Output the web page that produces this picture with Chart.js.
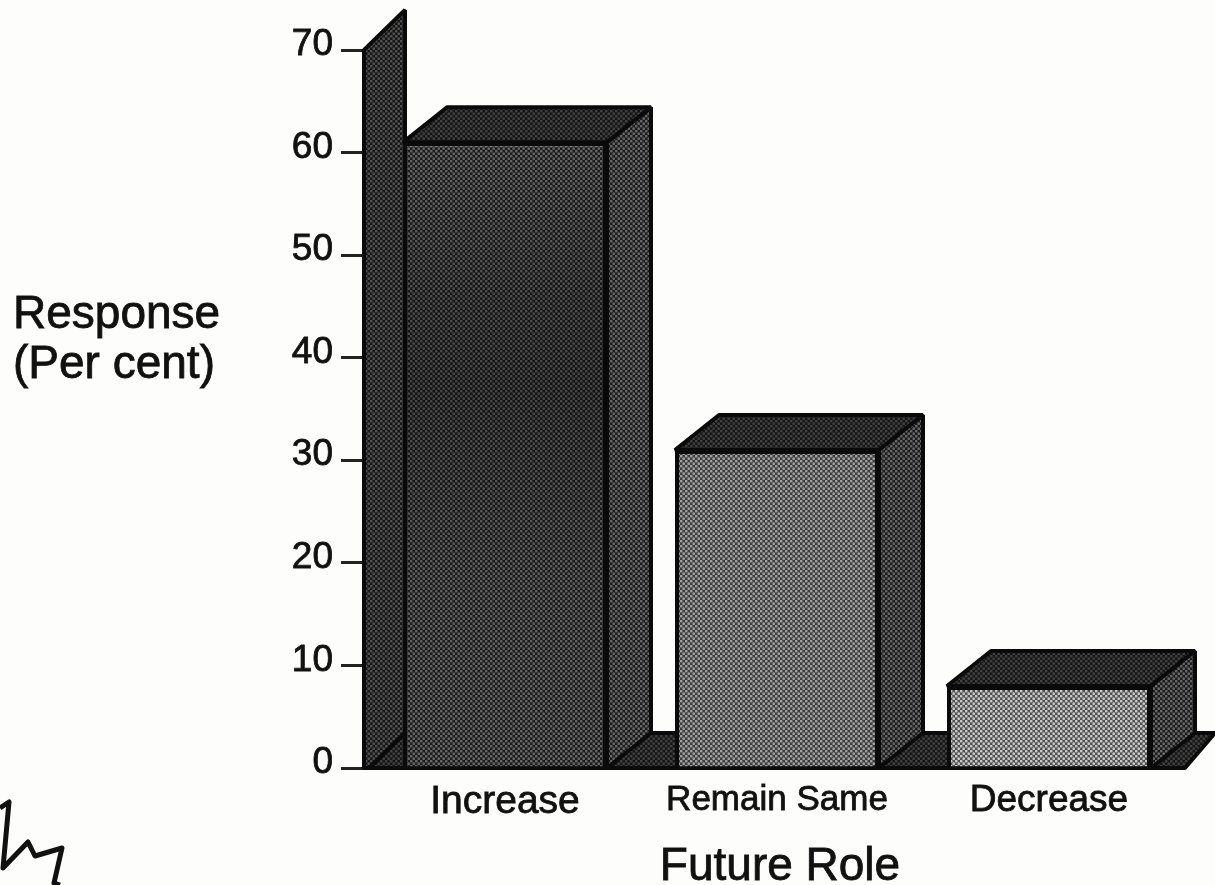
<!DOCTYPE html>
<html>
<head>
<meta charset="utf-8">
<title>Future Role</title>
<script src="https://cdn.jsdelivr.net/npm/chart.js@4"></script>
<style>
    html, body { margin: 0; padding: 0; background: #fdfdfb; overflow: hidden; }
    #wrap { position: relative; width: 1215px; height: 885px; }
    #scribble { position: absolute; left: 0; top: 0; }
</style>
</head>
<body>
<div id="wrap">
    <canvas id="roleChart" width="1215" height="885"></canvas>
    <svg id="scribble" width="1215" height="885">
        <polyline points="0,808 9,802 3,868 28,842 35,856 62,848 54,883 60,885"
                  fill="none" stroke="#111" stroke-width="5" stroke-linejoin="round"/>
    </svg>
</div>

<script>
let categories = ["Increase", "Remain Same", "Decrease"];
let responses = [61, 31, 8];
let yTicks = [0, 10, 20, 30, 40, 50, 60, 70];
let labelSizes = [39, 35, 37];
let yTitleLines = ["Response", "(Per cent)"];
let xTitle = "Future Role";
let fontName = "'Liberation Sans', Arial, sans-serif";

// HALFTONE FILL
function halftone(dark, light) {
    let c = document.createElement("canvas");
    c.width = 5;
    c.height = 5;
    let g = c.getContext("2d");
    g.fillStyle = dark;
    g.fillRect(0, 0, 5, 5);
    g.fillStyle = light;
    [[1.2, 1.2], [3.7, 3.7]].forEach(d => {
        g.beginPath();
        g.arc(d[0], d[1], 1.4, 0, Math.PI * 2);
        g.fill();
    });
    return g.createPattern(c, "repeat");
}

let frontFills = [halftone("#1c1c1c", "#666666"), halftone("#3c3c3c", "#a0a0a0"), halftone("#505050", "#c8c8c8")];
let sideFill = halftone("#1c1c1c", "#666666");
let topFill = halftone("#161616", "#404040");
let wallFill = halftone("#161616", "#505050");

function face(ctx, points, fill) {
    ctx.beginPath();
    points.forEach((p, i) => i ? ctx.lineTo(p[0], p[1]) : ctx.moveTo(p[0], p[1]));
    ctx.closePath();
    ctx.fillStyle = fill;
    ctx.fill();
    ctx.lineWidth = 4;
    ctx.lineJoin = "bevel";
    ctx.strokeStyle = "#0a0a0a";
    ctx.stroke();
}

function heavyText(ctx, text, x, y) {
    ctx.fillText(text, x, y);
    ctx.strokeText(text, x, y);
}

// 3D WALL, FLOOR AND BAR SIDES
let depthPlugin = {
    id: "depth",
    beforeDatasetsDraw(chart) {
        let ctx = chart.ctx;
        let y = chart.scales.y;
        let area = chart.chartArea;
        let base = y.getPixelForValue(0);
        let top = y.getPixelForValue(yTicks[yTicks.length - 1]);
        let wallLeft = area.left - 5;

        ctx.save();
        face(ctx, [[area.left, base], [area.left + 36, base - 35], [area.right + 30, base - 35], [area.right, base]], topFill);
        face(ctx, [[wallLeft, top], [wallLeft + 41, top - 40], [wallLeft + 41, base - 35], [wallLeft + 5, base], [wallLeft, base]], wallFill);

        chart.getDatasetMeta(0).data.forEach(bar => {
            let left = bar.x - bar.width / 2;
            let right = bar.x + bar.width / 2;
            face(ctx, [[left, bar.y], [left + 44, bar.y - 35], [right + 44, bar.y - 35], [right, bar.y]], topFill);
            face(ctx, [[right, bar.y], [right + 44, bar.y - 35], [right + 44, base - 35], [right, base]], sideFill);
        });
        ctx.restore();
    },
    afterDatasetsDraw(chart) {
        // darker band through the middle of the first bar, as in the print
        let ctx = chart.ctx;
        let bar = chart.getDatasetMeta(0).data[0];
        let base = chart.scales.y.getPixelForValue(0);
        let band = ctx.createLinearGradient(0, bar.y, 0, base);
        band.addColorStop(0, "rgba(0,0,0,0)");
        band.addColorStop(0.25, "rgba(0,0,0,0.25)");
        band.addColorStop(0.4, "rgba(0,0,0,0.32)");
        band.addColorStop(0.7, "rgba(0,0,0,0.08)");
        band.addColorStop(1, "rgba(0,0,0,0)");
        ctx.save();
        ctx.fillStyle = band;
        ctx.fillRect(bar.x - bar.width / 2, bar.y, bar.width, base - bar.y);
        ctx.restore();
    },
    afterDraw(chart) {
        let ctx = chart.ctx;
        ctx.save();
        ctx.fillStyle = "#111";
        ctx.strokeStyle = "#111";
        ctx.lineWidth = 0.8;
        ctx.font = "46px " + fontName;
        ctx.textAlign = "left";
        ctx.textBaseline = "alphabetic";
        heavyText(ctx, yTitleLines[0], 13, 328);
        heavyText(ctx, yTitleLines[1], 13, 378);
        ctx.textAlign = "center";
        heavyText(ctx, xTitle, 780, 880);
        ctx.restore();
    }
};

new Chart(document.getElementById("roleChart"), {
    type: "bar",
    data: {
        labels: categories,
        datasets: [{
            data: responses,
            backgroundColor: frontFills,
            borderColor: "#0a0a0a",
            borderWidth: 4,
            barPercentage: 0.75,
            categoryPercentage: 1
        }]
    },
    options: {
        responsive: false,
        animation: false,
        layout: { autoPadding: false, padding: { top: 50, right: 30 } },
        plugins: { legend: { display: false }, tooltip: { enabled: false } },
        scales: {
            x: {
                afterFit(scale) { scale.height = 117; },
                grid: { display: false },
                border: { display: false },
                ticks: {
                    color: "#111",
                    textStrokeColor: "#111",
                    textStrokeWidth: 0.8,
                    padding: 3,
                    maxRotation: 0,
                    autoSkip: false,
                    font: ctx => ({ family: fontName, size: labelSizes[ctx.index] })
                }
            },
            y: {
                min: 0,
                max: 70,
                afterFit(scale) { scale.width = 369; },
                afterBuildTicks(scale) { scale.ticks = yTicks.map(v => ({ value: v })); },
                border: { display: false },
                grid: { drawOnChartArea: false, color: "#222", lineWidth: 3, tickLength: 28 },
                ticks: {
                    color: "#111",
                    textStrokeColor: "#111",
                    textStrokeWidth: 0.8,
                    padding: 8,
                    labelOffset: -5,
                    font: { family: fontName, size: 37 }
                }
            }
        }
    },
    plugins: [depthPlugin]
});
</script>
</body>
</html>
